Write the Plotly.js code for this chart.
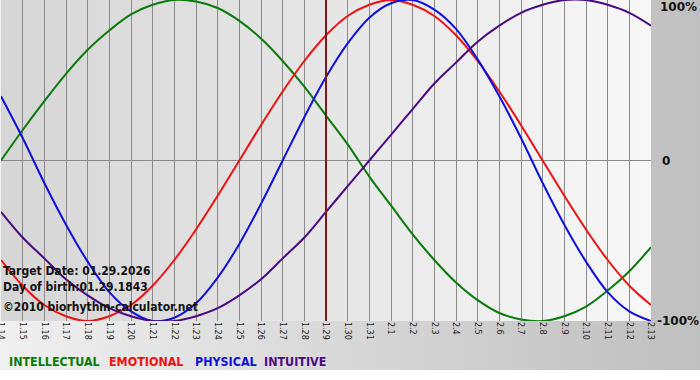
<!DOCTYPE html>
<html>
<head>
<meta charset="utf-8">
<script src="https://cdn.plot.ly/plotly-3.0.1.min.js"></script>
<style>
  html, body { margin: 0; padding: 0; background: #ffffff; }
  #chart {
    width: 700px; height: 380px;
    background:
      linear-gradient(to right, #d6d6d6 0%, #e6e6e6 50%, #f8f8f8 100%) 1px 0 / 650px 321px no-repeat,
      linear-gradient(to right, #f0f0f0 0%, #c2c2c2 93%, #c0c0c0 100%) 0 0 / 700px 370px no-repeat,
      #ffffff;
  }
</style>
</head>
<body>
<div id="chart"></div>
<script>
const days = ["1.14","1.15","1.16","1.17","1.18","1.19","1.20","1.21","1.22","1.23","1.24","1.25","1.26","1.27","1.28","1.29","1.30","1.31","2.1","2.2","2.3","2.4","2.5","2.6","2.7","2.8","2.9","2.10","2.11","2.12","2.13"];
const intellectual = [0, 0.19, 0.37, 0.54, 0.69, 0.81, 0.91, 0.97, 1.00, 0.99, 0.95, 0.87, 0.76, 0.62, 0.46, 0.28, 0.10, -0.10, -0.28, -0.46, -0.62, -0.76, -0.87, -0.95, -0.99, -1.00, -0.97, -0.91, -0.81, -0.69, -0.54];
const emotional = [-0.62, -0.78, -0.90, -0.97, -1.00, -0.97, -0.90, -0.78, -0.62, -0.43, -0.22, 0, 0.22, 0.43, 0.62, 0.78, 0.90, 0.97, 1.00, 0.97, 0.90, 0.78, 0.62, 0.43, 0.22, 0, -0.22, -0.43, -0.62, -0.78, -0.90];
const physical = [0.40, 0.14, -0.14, -0.40, -0.63, -0.82, -0.94, -1.00, -0.98, -0.89, -0.73, -0.52, -0.27, 0, 0.27, 0.52, 0.73, 0.89, 0.98, 1.00, 0.94, 0.82, 0.63, 0.40, 0.14, -0.14, -0.40, -0.63, -0.82, -0.94, -1.00];
const intuitive = [-0.32, -0.48, -0.61, -0.74, -0.84, -0.92, -0.97, -1.00, -1.00, -0.97, -0.92, -0.84, -0.74, -0.61, -0.48, -0.32, -0.16, 0, 0.16, 0.32, 0.48, 0.61, 0.74, 0.84, 0.92, 0.97, 1.00, 1.00, 0.97, 0.92, 0.84];
const targetDay = "1.29";
const seriesNames = ["INTELLECTUAL", "EMOTIONAL", "PHYSICAL", "INTUITIVE"];
const infoLines = ["Target Date: 01.29.2026", "Day of birth:01.29.1843", "©2010 biorhythm-calculator.net"];
const yLabels = ["100%", "0", "-100%"];
const yLabelVals = [1, 0, -1];

const colors = ["#0a7a0a", "#ee1111", "#1010dd", "#4a0a80"];
const seriesData = [intellectual, emotional, physical, intuitive];

const traces = seriesData.map((ys, i) => ({
  type: "scatter", mode: "lines", x: days, y: ys, name: seriesNames[i],
  line: { color: colors[i], width: 2, shape: "spline", smoothing: 1 },
  hoverinfo: "skip", showlegend: false
}));

const W = 650, H = 321;
const px = (x) => (x - 1) / W;
const py = (y) => (H - y) / H;

const annotations = [];
const legendX = [7, 107, 193, 262];
seriesNames.forEach((n, i) => annotations.push({
  xref: "paper", yref: "paper", x: px(legendX[i]), y: py(361), xanchor: "left", yanchor: "middle",
  text: n, showarrow: false,
  font: { family: "DejaVu Sans Condensed, DejaVu Sans", size: 12.4, color: colors[i], weight: "bold" }
}));
const infoY = [271, 287, 307];
infoLines.forEach((t, i) => annotations.push({
  xref: "paper", yref: "paper", x: px(1), y: py(infoY[i]), xanchor: "left", yanchor: "middle",
  text: t, showarrow: false,
  font: { family: "DejaVu Sans Condensed, DejaVu Sans", size: 12, color: "#111", weight: "bold" }
}));
const yLabX = [658, 660, 655];
yLabels.forEach((t, i) => annotations.push({
  xref: "paper", yref: "y", x: px(yLabX[i]), y: yLabelVals[i], xanchor: "left",
  yanchor: i === 0 ? "top" : "middle", yshift: i === 0 ? 2 : 0,
  text: t, showarrow: false,
  font: { family: "DejaVu Sans", size: 12, color: "#111", weight: "bold" }
}));

const targetIdx = days.indexOf(targetDay);

const layout = {
  width: 700, height: 380,
  margin: { l: 1, r: 49, t: 0, b: 59, pad: 0 },
  paper_bgcolor: "rgba(0,0,0,0)", plot_bgcolor: "rgba(0,0,0,0)",
  showlegend: false,
  xaxis: {
    type: "category", range: [0, days.length - 1], fixedrange: true,
    showgrid: true, gridcolor: "#8a8a8a", gridwidth: 1,
    tickangle: 90, ticks: "", ticklen: 0,
    tickfont: { family: "DejaVu Sans", size: 8, color: "#222" },
    zeroline: false, showline: false
  },
  yaxis: {
    range: [-1, 1], fixedrange: true,
    showgrid: false, zeroline: true, zerolinecolor: "#8a8a8a", zerolinewidth: 1,
    showticklabels: false, ticks: "", showline: false
  },
  shapes: [{
    type: "line", xref: "x", yref: "paper", x0: targetIdx, x1: targetIdx, y0: 0, y1: 1,
    line: { color: "#7a1a1a", width: 2 }
  }],
  annotations: annotations
};

Plotly.newPlot("chart", traces, layout, { staticPlot: true, displayModeBar: false });
</script>
</body>
</html>
